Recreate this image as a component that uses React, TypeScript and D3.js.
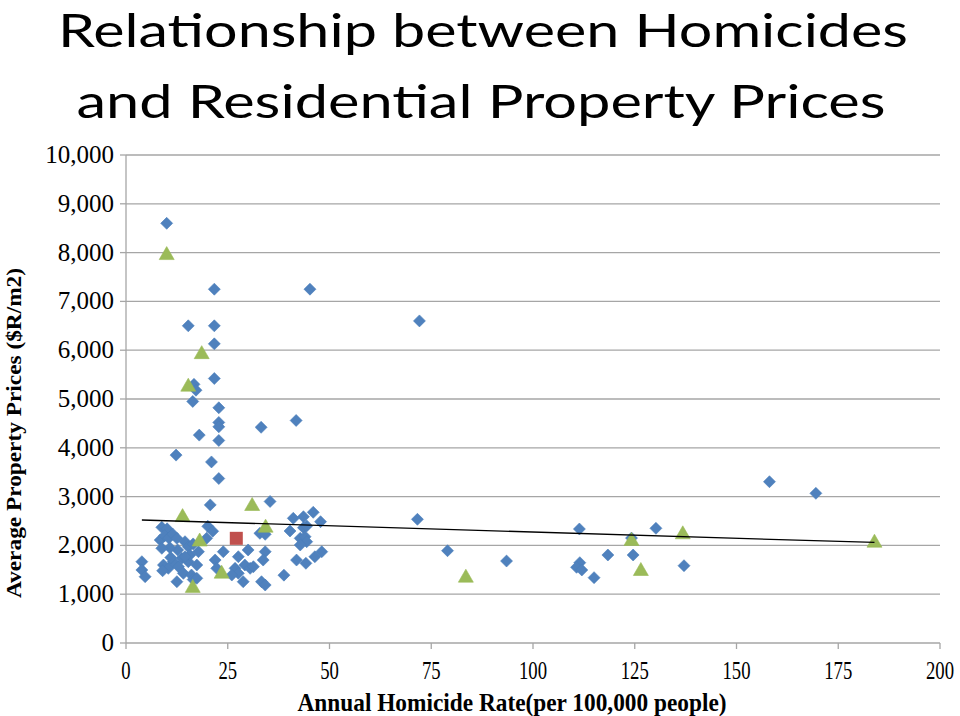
import React from "react";
import * as d3 from "d3";

const titleLines = ["Relationship between Homicides", "and Residential Property Prices"];
const xTicks = [0, 25, 50, 75, 100, 125, 150, 175, 200];
const yTicks = [0, 1000, 2000, 3000, 4000, 5000, 6000, 7000, 8000, 9000, 10000];
const xLabel = "Annual Homicide Rate(per 100,000 people)";
const yLabel = "Average Property Prices ($R/m2)";

// Blue diamonds: [homicide rate, price]
const blueSeries: [number, number][] = [
  [10.0, 8600], [21.7, 7250], [45.2, 7250], [15.3, 6500], [21.7, 6500], [21.7, 6130],
  [21.7, 5420], [16.7, 5300], [17.2, 5180], [16.4, 4950], [22.8, 4820], [22.8, 4520],
  [22.8, 4430], [33.2, 4420], [41.8, 4560], [18.0, 4260], [22.8, 4150], [12.3, 3850],
  [21.0, 3710], [22.8, 3370], [20.7, 2830], [35.4, 2900], [72.1, 6600],
  [8.8, 2370], [10.1, 2340], [20.1, 2390], [21.3, 2290], [8.4, 2110], [9.5, 2200],
  [10.5, 2150], [11.5, 2230], [12.5, 2145], [14.5, 2076], [15.3, 1973], [12.7, 1906],
  [10.8, 1953], [8.8, 1940], [17.8, 1871], [3.9, 1666], [3.9, 1496], [4.7, 1359],
  [9.2, 1598], [10.4, 1530], [11.6, 1666], [12.9, 1563], [13.7, 1735], [15.3, 1666],
  [15.7, 1803], [14.1, 1428], [12.5, 1256], [16.1, 1393], [16.5, 1300], [9.0, 1480],
  [11.0, 1750], [14.5, 1768], [16.5, 2030], [19.8, 2145], [23.9, 1871], [30.0, 1906],
  [34.2, 1871], [33.7, 1700], [21.9, 1700], [22.3, 1530], [27.6, 1768], [29.2, 1598],
  [30.5, 1530], [31.3, 1563], [26.8, 1530], [27.6, 1428], [26.0, 1393], [28.8, 1256],
  [33.3, 1256], [34.2, 1188], [17.4, 1598], [17.4, 1325], [32.9, 2248], [34.2, 2227],
  [38.8, 1390], [41.1, 2555], [43.6, 2588], [46.0, 2678], [47.8, 2486], [40.3, 2295],
  [43.6, 2363], [42.8, 2145], [44.0, 2178], [44.4, 2076], [42.8, 2008], [41.9, 1700],
  [44.2, 1633], [46.4, 1768], [48.1, 1871], [44.4, 2400],
  [71.6, 2535], [79.0, 1891], [93.5, 1680], [111.4, 2336], [111.5, 1646], [110.7, 1551],
  [112.0, 1496], [115.0, 1339], [118.4, 1803], [124.6, 1803], [124.2, 2150], [130.2, 2350],
  [137.1, 1584], [158.1, 3305], [169.5, 3067],
];

// Green triangles
const greenSeries: [number, number][] = [
  [10.0, 7970], [18.6, 5940], [15.3, 5273], [31.0, 2828], [13.9, 2600], [34.3, 2384],
  [18.1, 2100], [23.5, 1441], [16.4, 1150], [83.5, 1359], [124.2, 2111], [126.5, 1496],
  [136.8, 2248], [183.9, 2076],
];

// Red square
const redSeries: [number, number][] = [[27.1, 2145]];

// Linear trendline endpoints
const trendSeries: [number, number][] = [[3.9, 2520], [183.9, 2060]];

const W = 960;
const H = 716;

export default function App() {
  const x = d3.scaleLinear().domain([0, 200]).range([126, 940]);
  const y = d3.scaleLinear().domain([0, 10000]).range([643, 155]);
  const fmt = d3.format(",");
  const line = d3.line<[number, number]>().x((d) => x(d[0])).y((d) => y(d[1]));

  const diamond = "M0,-6L6,0L0,6L-6,0Z";
  const triangle = "M0,-7.5L7.5,5.5L-7.5,5.5Z";
  const serif = "'Liberation Serif', 'Times New Roman', serif";

  return (
    <svg
      width={W}
      height={H}
      viewBox={`0 0 ${W} ${H}`}
      style={{ position: "absolute", left: 0, top: 0, background: "#fff" }}
    >
      <rect x={0} y={0} width={W} height={H} fill="#fff" />
      {/* title */}
      <g fontFamily="Lato, 'Open Sans', sans-serif" fontSize={47} fill="#000">
        <text x={483} y={46.5} textAnchor="middle" textLength={850} lengthAdjust="spacingAndGlyphs">
          {titleLines[0]}
        </text>
        <text x={481} y={118} textAnchor="middle" textLength={809} lengthAdjust="spacingAndGlyphs">
          {titleLines[1]}
        </text>
      </g>

      {/* gridlines */}
      {yTicks.map((t) => (
        <line key={"g" + t} x1={x(0)} x2={x(200)} y1={y(t)} y2={y(t)} stroke="#a6a6a6" strokeWidth={1.3} />
      ))}
      {/* y axis */}
      <line x1={x(0)} x2={x(0)} y1={y(0)} y2={y(10000)} stroke="#a6a6a6" strokeWidth={1.3} />
      {yTicks.map((t) => (
        <line key={"yt" + t} x1={x(0) - 6} x2={x(0)} y1={y(t)} y2={y(t)} stroke="#a6a6a6" strokeWidth={1.3} />
      ))}
      {xTicks.map((t) => (
        <line key={"xt" + t} x1={x(t)} x2={x(t)} y1={y(0)} y2={y(0) + 6} stroke="#a6a6a6" strokeWidth={1.3} />
      ))}

      {/* y tick labels */}
      <g fontFamily={serif} fontSize={25} fill="#000">
        {yTicks.map((t) => (
          <text key={"yl" + t} x={114} y={y(t) + 8} textAnchor="end">
            {fmt(t)}
          </text>
        ))}
      </g>
      {/* x tick labels */}
      <g fontFamily={serif} fontSize={26} fill="#000">
        {xTicks.map((t) => (
          <text key={"xl" + t} transform={`translate(${x(t)},679) scale(0.72,1)`} textAnchor="middle">
            {String(t)}
          </text>
        ))}
      </g>

      {/* axis titles */}
      <text
        x={512}
        y={711}
        textAnchor="middle"
        fontFamily={serif}
        fontWeight="bold"
        fontSize={26}
        textLength={429}
        lengthAdjust="spacingAndGlyphs"
      >
        {xLabel}
      </text>
      <text
        transform={`translate(21,433) rotate(-90)`}
        textAnchor="middle"
        fontFamily={serif}
        fontWeight="bold"
        fontSize={22}
        textLength={330}
        lengthAdjust="spacingAndGlyphs"
      >
        {yLabel}
      </text>

      {/* points */}
      {blueSeries.map((d, i) => (
        <path key={"b" + i} d={diamond} transform={`translate(${x(d[0])},${y(d[1])})`} fill="#4F81BD" stroke="#4A7EBB" strokeWidth={0.6} />
      ))}
      {greenSeries.map((d, i) => (
        <path key={"t" + i} d={triangle} transform={`translate(${x(d[0])},${y(d[1])})`} fill="#9BBB59" stroke="#98B954" strokeWidth={0.6} />
      ))}
      {redSeries.map((d, i) => (
        <rect key={"r" + i} x={x(d[0]) - 6.5} y={y(d[1]) - 6.5} width={13} height={13} fill="#C0504D" />
      ))}

      {/* trendline */}
      <path d={line(trendSeries) || ""} fill="none" stroke="#000" strokeWidth={1.3} />
    </svg>
  );
}
